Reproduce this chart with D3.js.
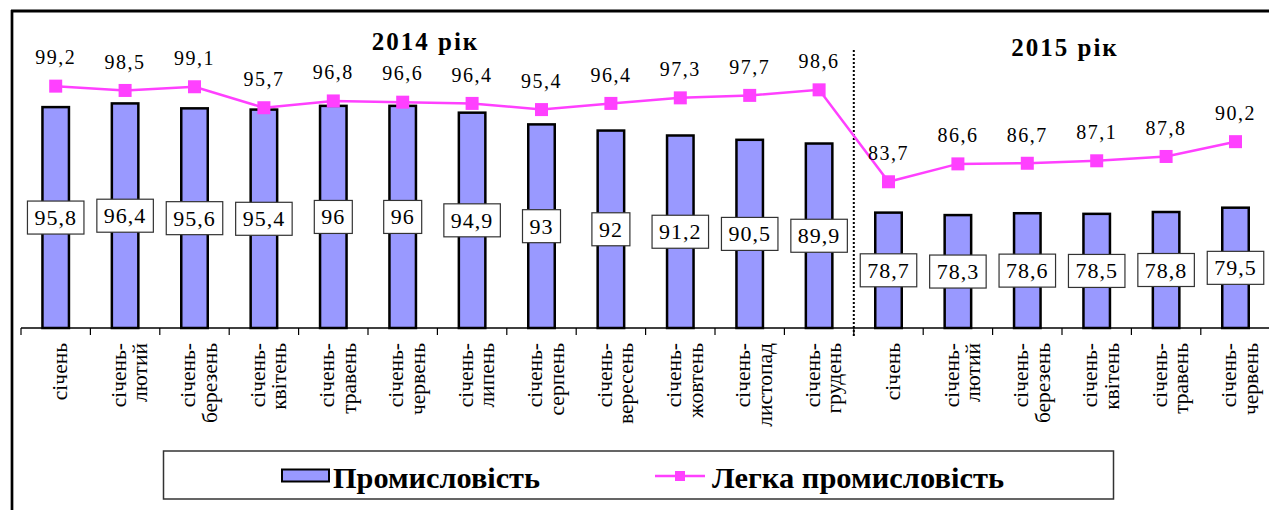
<!DOCTYPE html>
<html><head><meta charset="utf-8">
<script src="https://cdn.jsdelivr.net/npm/d3@7"></script>
<style>
html,body{margin:0;padding:0;background:#fff;}
text{font-family:"Liberation Serif","Times New Roman",serif;fill:#000;}
</style></head>
<body><svg id="c" width="1269" height="510"></svg>
<script>
const months2014 = [["січень"],["січень-","лютий"],["січень-","березень"],["січень-","квітень"],["січень-","травень"],["січень-","червень"],["січень-","липень"],["січень-","серпень"],["січень-","вересень"],["січень-","жовтень"],["січень-","листопад"],["січень-","грудень"]];
const months2015 = [["січень"],["січень-","лютий"],["січень-","березень"],["січень-","квітень"],["січень-","травень"],["січень-","червень"]];
const categories = months2014.concat(months2015);
const industry = [95.8,96.4,95.6,95.4,96,96,94.9,93,92,91.2,90.5,89.9,78.7,78.3,78.6,78.5,78.8,79.5];
const lightIndustry = [99.2,98.5,99.1,95.7,96.8,96.6,96.4,95.4,96.4,97.3,97.7,98.6,83.7,86.6,86.7,87.1,87.8,90.2];
const yearTitles = ["2014 рік","2015 рік"];
const seriesNames = ["Промисловість","Легка промисловість"];
const yDomain = [60,110];

const svg = d3.select("#c");
const fmt = v => String(v).replace(".", ",");
const idx = d3.range(categories.length);
const x = d3.scaleBand().domain(idx).range([21, 21 + categories.length*69.4]).padding(0);
const y = d3.scaleLinear().domain(yDomain).range([328, 19.5]);
const cx = i => x(i) + x.bandwidth()/2;
const magenta = "#ff40ff", barFill = "#9999ff";

// frame (cropped)
svg.append("line").attr("x1",11).attr("x2",1269).attr("y1",11).attr("y2",11).attr("stroke","#000").attr("stroke-width",3);
svg.append("line").attr("x1",12).attr("x2",12).attr("y1",10).attr("y2",510).attr("stroke","#000").attr("stroke-width",2.7);

// bars
const bw = 26.5;
svg.append("g").selectAll("rect").data(industry).join("rect")
  .attr("x",(d,i)=>cx(i)-bw/2).attr("width",bw)
  .attr("y",d=>y(d)).attr("height",d=>y(yDomain[0])-y(d))
  .attr("fill",barFill).attr("stroke","#000").attr("stroke-width",2.5);

// x axis line + ticks
const axY = y(yDomain[0]);
svg.append("line").attr("x1",x(0)).attr("x2",1269).attr("y1",axY).attr("y2",axY).attr("stroke","#000").attr("stroke-width",1.3);
svg.append("g").selectAll("line").data(d3.range(categories.length+1)).join("line")
  .attr("x1",i=>x(0)+i*x.step()).attr("x2",i=>x(0)+i*x.step())
  .attr("y1",axY).attr("y2",axY+7).attr("stroke","#000").attr("stroke-width",1.2);

// separator
const sepX = x(months2014.length);
svg.append("line").attr("x1",sepX).attr("x2",sepX).attr("y1",50).attr("y2",338)
  .attr("stroke","#000").attr("stroke-width",2).attr("stroke-dasharray","2,2");

// x labels
const xl = svg.append("g");
categories.forEach((lines,i)=>{
  const n = lines.length;
  lines.forEach((t,j)=>{
    const bx = cx(i) + 11.5 + (j-(n-1)/2)*21.7;
    xl.append("text").attr("transform",`translate(${bx},343) rotate(-90)`)
      .attr("text-anchor","end").attr("font-size",21.5).text(t);
  });
});

// bar value boxes
const bl = svg.append("g");
industry.forEach((v,i)=>{
  const my = (y(v)+axY)/2;
  const g = bl.append("g");
  const r = g.append("rect");
  const t = g.append("text").attr("x",cx(i)).attr("y",my+7.5).attr("text-anchor","middle")
    .attr("font-size",22).attr("letter-spacing",1).text(fmt(v));
  const w = t.node().getComputedTextLength();
  r.attr("x",cx(i)-w/2-7).attr("width",w+14).attr("y",my-16.5).attr("height",33)
   .attr("fill","#fff").attr("stroke","#333").attr("stroke-width",1.2);
});

// line
svg.append("path").datum(lightIndustry)
  .attr("d",d3.line().x((d,i)=>cx(i)).y(d=>y(d)))
  .attr("fill","none").attr("stroke",magenta).attr("stroke-width",2.5);
svg.append("g").selectAll("rect").data(lightIndustry).join("rect")
  .attr("x",(d,i)=>cx(i)-6.5).attr("y",d=>y(d)-6.5).attr("width",13).attr("height",13)
  .attr("fill",magenta);
svg.append("g").selectAll("text").data(lightIndustry).join("text")
  .attr("x",(d,i)=>cx(i)).attr("y",d=>y(d)-21.7).attr("text-anchor","middle")
  .attr("font-size",20).attr("letter-spacing",1.5).text(d=>fmt(d));

// titles
svg.append("text").attr("x",425.5).attr("y",50).attr("text-anchor","middle").attr("font-size",25)
  .attr("font-weight","bold").attr("letter-spacing",2).text(yearTitles[0]);
svg.append("text").attr("x",1065).attr("y",56).attr("text-anchor","middle").attr("font-size",25)
  .attr("font-weight","bold").attr("letter-spacing",2).text(yearTitles[1]);

// legend
const lg = svg.append("g");
lg.append("rect").attr("x",163.5).attr("y",451).attr("width",950).attr("height",48)
  .attr("fill","#fff").attr("stroke","#333").attr("stroke-width",1.5);
lg.append("rect").attr("x",282).attr("y",469.5).attr("width",47).attr("height",12)
  .attr("fill",barFill).attr("stroke","#000").attr("stroke-width",2);
lg.append("text").attr("x",333).attr("y",488).attr("font-size",29).attr("font-weight","bold")
  .attr("textLength",207).attr("lengthAdjust","spacingAndGlyphs").text(seriesNames[0]);
lg.append("line").attr("x1",655).attr("x2",705).attr("y1",476).attr("y2",476).attr("stroke",magenta).attr("stroke-width",2.5);
lg.append("rect").attr("x",675).attr("y",471).attr("width",10).attr("height",10).attr("fill",magenta);
lg.append("text").attr("x",712).attr("y",488).attr("font-size",29).attr("font-weight","bold")
  .attr("textLength",292).attr("lengthAdjust","spacingAndGlyphs").text(seriesNames[1]);
</script></body></html>
